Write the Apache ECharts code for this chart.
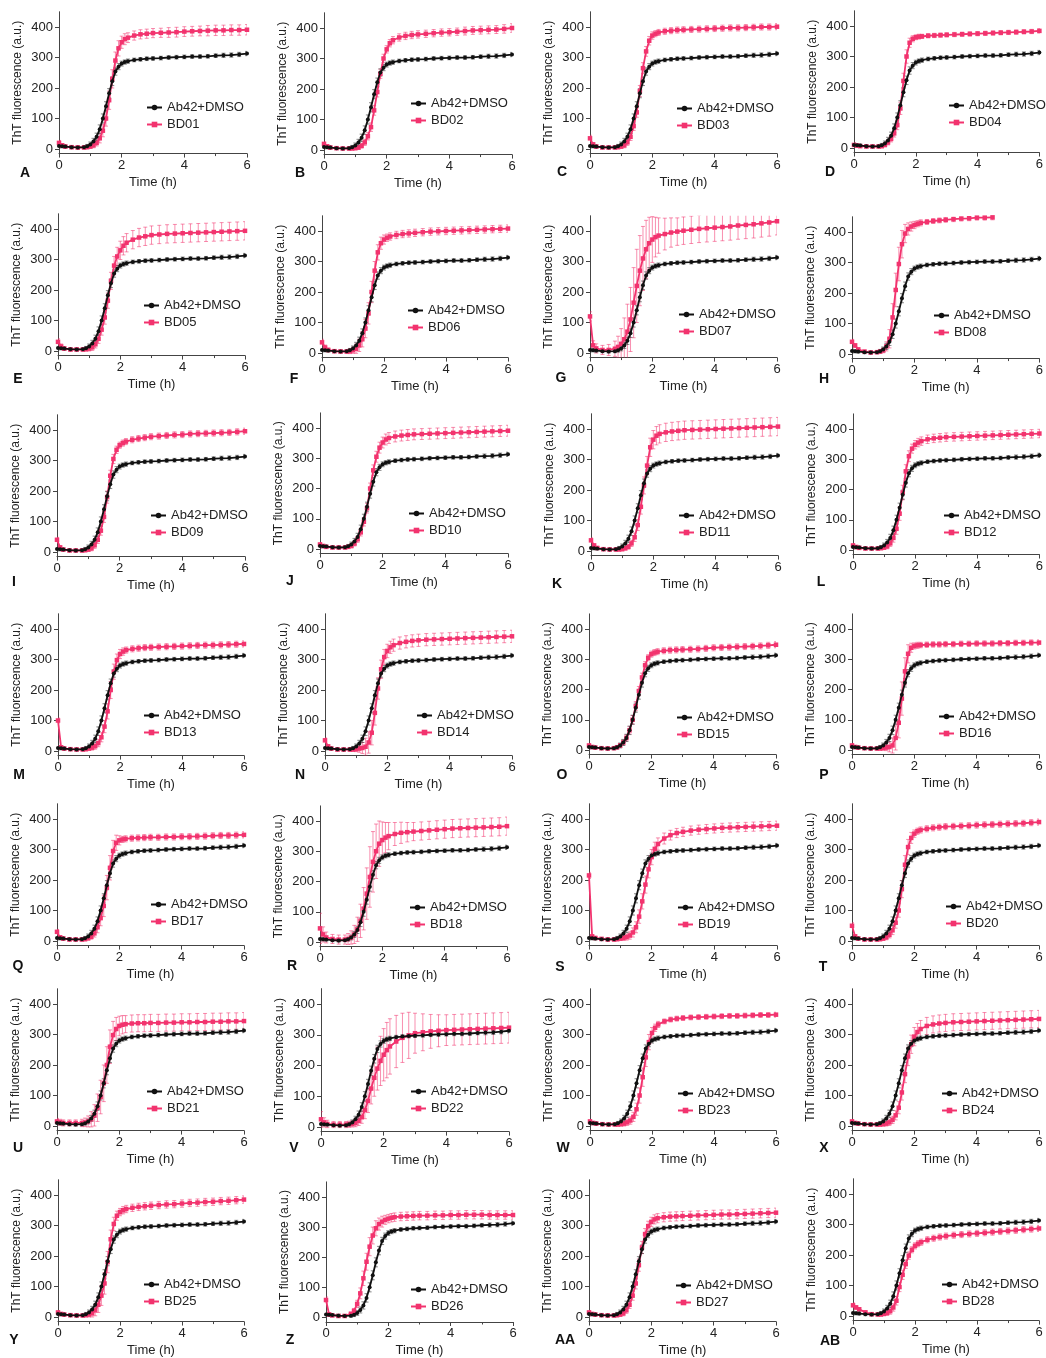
<!DOCTYPE html>
<html><head><meta charset="utf-8">
<script src="https://cdn.jsdelivr.net/npm/echarts@6/dist/echarts.min.js"></script>
<style>html,body{margin:0;padding:0;background:#fff}#c{width:1046px;height:1358px}</style>
</head><body><div id="c"></div>
<script>
// ---------------- DATA ----------------
const times = [0,0.1,0.2, 0.4,0.6,0.8,0.9, 1.0,1.1,1.2,1.3,1.4,1.5,1.6,1.7,1.8,1.9,2.0,2.1,2.2, 2.4,2.6,2.8,3.0, 3.25,3.5,3.75,4.0,4.25,4.5,4.75,5.0,5.25,5.5,5.75,6.0];
const xTicks = [0,2,4,6];
const yTicks = [0,100,200,300,400];
const ctrlName = 'Ab42+DMSO';
const ctrl    = [10,9,8, 6,5,6,9, 15,25,40,65,100,140,183,222,254,270,280,285,288, 292,294,296,297, 298,300,301,302,303,303,304,306,307,308,310,313];
const ctrlErr = [6,5,5, 5,5,5,6, 8,10,12,14,15,15,15,14,12,10,8,7,7, 6,6,6,6, 6,6,6,6,6,6,6,6,7,7,7,7];

const bd01 = [20,12,8, 6,5,5,6, 8,12,20,35,60,100,160,230,290,330,350,360,365, 372,376,378,380, 381,382,383,385,386,387,388,389,389,390,390,391];
const bd01Err = [8,6,5, 5,5,5,5, 6,8,10,15,20,25,30,30,28,25,20,18,16, 15,15,15,15, 15,16,16,16,16,16,17,17,17,17,17,17];
const bd02 = [20,12,8, 6,5,5,5, 6,8,14,25,45,75,130,190,250,300,330,350,360, 369,374,377,379, 381,383,385,386,388,390,392,393,394,395,397,400];
const bd02Err = [6,5,5, 4,4,4,4, 5,6,8,10,12,14,16,16,15,14,12,12,12, 12,12,12,12, 12,12,12,12,12,13,13,13,13,13,14,14];
const bd03 = [35,15,8, 5,5,5,6, 8,12,22,40,75,120,190,265,320,355,372,378,382, 386,388,390,391, 392,393,394,395,396,397,397,398,399,400,400,401];
const bd03Err = [10,6,5, 4,4,4,5, 6,8,10,12,14,16,18,18,16,14,12,10,10, 10,10,10,10, 10,10,10,10,10,10,10,10,10,10,10,10];
const bd04 = [10,8,6, 5,5,5,6, 10,18,30,48,75,130,220,300,345,358,363,365,366, 368,369,370,371, 372,373,374,375,376,377,378,379,380,381,382,384];
const bd04Err = [6,5,4, 4,4,4,5, 6,8,10,12,15,20,25,22,15,10,8,8,7, 7,7,7,7, 7,7,7,7,7,7,7,7,7,7,7,7];
const bd05 = [30,15,8, 5,5,5,6, 8,12,22,40,70,110,165,230,280,310,330,345,355, 365,372,376,380, 382,384,385,386,387,388,389,390,391,392,393,394];
const bd05Err = [10,8,6, 5,5,5,6, 8,10,12,15,18,22,25,28,30,30,30,30,30, 30,30,30,30, 30,30,30,30,30,30,30,30,30,30,30,30];
const bd06 = [35,18,10, 6,5,5,6, 9,14,25,45,80,130,200,270,330,360,372,378,382, 387,390,392,394, 396,398,399,400,401,402,403,404,405,406,407,408];
const bd06Err = [10,8,6, 5,5,6,8, 10,15,20,25,30,35,35,30,25,20,15,12,12, 12,12,12,12, 12,12,12,12,12,12,12,12,12,12,12,12];
const bd07 = [120,25,15, 10,10,14,20, 30,45,70,110,165,220,270,310,340,360,372,380,385, 390,395,398,401, 404,407,409,411,413,415,418,420,422,425,428,432];
const bd07Err = [15,15,15, 15,18,25,35, 50,70,90,105,115,120,115,105,95,85,75,65,58, 52,48,45,45, 45,45,45,45,45,45,45,45,45,45,45,45];
const bd08 = [40,28,15, 8,5,6,8, 12,25,50,120,210,295,360,395,410,418,423,427,430, 433,436,438,440, 442,444,445,447,447,448,null,null,null,null,null,null];
const bd08Err = [8,6,5, 4,4,4,5, 8,15,30,45,55,55,45,30,20,15,12,10,10, 8,8,8,8, 8,8,8,8,8,8,0,0,0,0,0,0];
const bd09 = [40,15,8, 5,5,5,6, 8,12,22,40,70,115,180,250,305,335,350,357,362, 368,372,375,378, 380,382,384,385,387,388,389,390,391,392,394,396];
const bd09Err = [8,6,5, 4,4,4,5, 6,8,10,12,15,18,20,18,15,12,10,10,10, 10,10,10,10, 10,10,10,10,10,10,10,10,10,10,10,10];
const bd10 = [15,10,7, 5,5,5,7, 10,18,32,55,90,135,200,260,305,335,352,362,367, 372,375,377,379, 380,381,382,383,384,385,386,387,388,389,390,391];
const bd10Err = [6,5,5, 4,4,4,5, 6,8,10,12,14,16,18,18,18,18,18,18,18, 18,18,18,18, 18,18,18,18,18,18,18,18,18,18,18,18];
const bd11 = [35,18,10, 6,5,5,5, 6,9,14,25,45,85,145,215,280,340,365,378,384, 389,392,394,396, 397,398,399,400,401,402,403,404,405,406,407,408];
const bd11Err = [8,6,5, 4,4,4,4, 5,6,8,10,14,18,24,28,30,30,30,30,30, 30,30,30,30, 30,30,30,30,30,30,30,30,30,30,30,30];
const bd12 = [15,10,7, 5,5,5,6, 8,12,22,40,70,120,190,260,310,335,348,355,360, 366,369,371,373, 374,375,376,377,378,379,380,381,382,383,384,385];
const bd12Err = [6,5,4, 4,4,4,5, 6,8,10,14,18,22,24,22,18,15,14,14,14, 14,14,14,14, 14,14,14,14,14,14,14,14,14,14,14,14];
const bd13 = [100,12,8, 6,5,5,6, 8,11,16,26,45,80,130,200,260,298,318,326,331, 335,337,339,340, 341,342,343,344,345,346,347,347,348,349,350,351];
const bd13Err = [8,6,5, 4,4,4,5, 6,8,10,12,15,20,25,28,25,20,15,12,10, 10,10,10,10, 10,10,10,10,10,10,10,10,10,10,10,10];
const bd14 = [35,15,8, 5,5,5,5, 6,8,10,14,28,60,125,205,268,308,328,340,347, 354,358,361,363, 365,366,367,368,369,370,371,372,373,374,375,376];
const bd14Err = [8,6,5, 5,5,5,6, 8,12,18,28,35,40,40,35,30,25,22,20,20, 20,20,20,20, 20,20,20,20,20,20,20,20,20,20,20,20];
const bd15 = [15,10,8, 6,5,6,9, 15,25,40,65,100,145,195,240,280,305,317,322,325, 328,330,331,332, 333,334,336,338,339,340,341,342,343,344,346,348];
const bd15Err = [6,5,4, 4,4,4,5, 6,8,10,12,14,15,15,14,12,10,10,10,10, 10,10,10,10, 10,10,10,10,10,10,10,10,10,10,10,10];
const bd16 = [15,10,8, 6,5,5,5, 6,8,10,15,40,90,170,260,318,338,344,346,347, 348,349,349,350, 350,351,351,352,352,352,353,353,354,354,355,355];
const bd16Err = [6,5,4, 4,4,4,5, 6,10,16,25,40,50,55,45,30,15,10,10,9, 9,9,9,9, 9,9,9,9,9,9,9,9,9,9,9,9];
const bd17 = [30,12,8, 5,5,5,6, 9,14,25,45,75,115,175,240,295,322,330,333,335, 337,338,339,340, 340,341,341,342,342,343,344,345,346,346,347,348];
const bd17Err = [8,6,5, 4,4,4,5, 6,8,12,18,25,35,40,40,35,25,15,10,10, 10,10,10,10, 10,10,10,10,10,10,10,10,10,10,10,10];
const bd18 = [45,25,15, 10,8,8,10, 15,25,42,70,110,160,215,265,300,325,337,345,350, 357,361,363,365, 367,369,371,373,375,376,377,378,379,380,381,383];
const bd18Err = [50,25,18, 15,15,15,18, 22,30,40,55,70,85,100,100,90,75,60,50,45, 38,35,32,30, 30,30,30,30,30,30,30,30,30,30,30,30];
const bd19 = [215,15,10, 7,5,5,6, 8,10,13,18,28,45,80,130,185,235,275,302,318, 336,347,354,358, 362,365,367,369,371,372,373,374,375,376,377,378];
const bd19Err = [10,6,5, 4,4,4,5, 6,8,10,12,15,18,22,25,28,28,25,22,20, 18,16,15,15, 15,15,15,15,15,15,15,15,15,15,15,15];
const bd20 = [50,15,8, 5,5,5,6, 8,12,20,35,60,100,170,250,308,338,352,360,364, 368,371,373,375, 376,377,378,380,381,382,383,384,385,386,388,390];
const bd20Err = [10,6,5, 4,4,4,5, 6,8,10,14,18,22,28,30,25,18,12,10,10, 10,10,10,10, 10,10,10,10,10,10,10,10,10,10,10,10];
const bd21 = [15,12,10, 10,10,10,12, 15,22,35,60,95,140,200,260,298,318,328,332,334, 336,337,337,338, 338,339,339,340,340,341,341,342,342,343,343,344];
const bd21Err = [10,10,10, 10,10,12,14, 18,25,35,45,55,60,60,55,45,38,32,30,28, 28,28,28,28, 28,28,28,28,28,28,28,28,28,28,28,28];
const bd22 = [25,15,10, 8,8,8,9, 10,13,20,32,55,85,125,160,190,215,235,250,262, 278,290,298,305, 308,311,313,315,316,317,318,319,320,321,322,323];
const bd22Err = [25,15,12, 10,10,10,10, 10,12,15,20,28,38,50,60,70,80,85,90,90, 85,80,75,65, 60,55,52,50,50,50,50,50,50,50,50,50];
const bd23 = [15,10,8, 6,5,5,5, 6,8,12,18,30,55,100,160,225,275,305,322,333, 343,349,352,354, 356,357,358,359,360,361,361,362,363,364,364,365];
const bd23Err = [6,5,4, 4,4,4,5, 6,8,10,12,15,20,25,30,30,25,18,12,10, 8,8,8,8, 8,8,8,8,8,8,8,8,8,8,8,8];
const bd24 = [15,10,8, 6,5,5,5, 6,8,12,20,35,60,110,170,228,268,293,308,318, 328,333,336,338, 340,341,342,343,344,345,346,347,348,349,350,351];
const bd24Err = [6,5,4, 4,4,4,5, 6,8,10,12,15,20,25,28,30,30,30,28,28, 28,28,28,28, 28,28,28,28,28,28,28,28,28,28,28,28];
const bd25 = [15,10,8, 6,5,5,6, 8,12,22,40,70,110,180,255,305,332,344,350,354, 358,361,363,365, 367,369,370,372,374,375,377,378,380,381,383,385];
const bd25Err = [6,5,4, 4,4,4,5, 8,12,18,25,32,35,35,30,22,15,12,12,12, 12,12,12,12, 12,12,12,12,12,12,12,12,12,12,12,12];
const bd26 = [58,10,7, 5,5,12,22, 45,80,130,185,235,272,296,310,318,324,328,331,333, 335,336,337,338, 338,339,339,340,340,341,341,341,340,340,340,340];
const bd26Err = [10,6,5, 4,4,6,8, 12,18,24,28,30,28,25,20,18,15,14,14,14, 14,14,14,14, 14,14,14,14,14,14,14,14,14,14,14,14];
const bd27 = [15,10,8, 6,5,5,6, 8,12,22,40,70,110,170,228,272,298,312,320,324, 327,329,330,331, 332,333,334,335,336,336,337,338,339,340,341,342];
const bd27Err = [6,5,4, 4,4,4,5, 6,8,10,12,15,18,20,20,18,16,15,15,15, 15,15,15,15, 15,15,15,15,15,15,15,15,15,15,15,15];
const bd28 = [35,28,22, 12,6,5,5, 7,10,16,28,50,95,135,170,198,217,230,237,242, 250,255,259,262, 265,267,269,271,273,275,277,279,281,283,285,287];
const bd28Err = [8,6,5, 4,4,4,5, 6,8,10,12,14,15,15,14,12,10,10,10,10, 10,10,10,10, 10,10,10,10,10,10,10,10,10,10,10,10];

const compoundNames = ['BD01','BD02','BD03','BD04','BD05','BD06','BD07','BD08','BD09','BD10','BD11','BD12','BD13','BD14','BD15','BD16','BD17','BD18','BD19','BD20','BD21','BD22','BD23','BD24','BD25','BD26','BD27','BD28'];
const compoundValues = [bd01,bd02,bd03,bd04,bd05,bd06,bd07,bd08,bd09,bd10,bd11,bd12,bd13,bd14,bd15,bd16,bd17,bd18,bd19,bd20,bd21,bd22,bd23,bd24,bd25,bd26,bd27,bd28];
const compoundErrors = [bd01Err,bd02Err,bd03Err,bd04Err,bd05Err,bd06Err,bd07Err,bd08Err,bd09Err,bd10Err,bd11Err,bd12Err,bd13Err,bd14Err,bd15Err,bd16Err,bd17Err,bd18Err,bd19Err,bd20Err,bd21Err,bd22Err,bd23Err,bd24Err,bd25Err,bd26Err,bd27Err,bd28Err];
const panelLetters = ['A','B','C','D','E','F','G','H','I','J','K','L','M','N','O','P','Q','R','S','T','U','V','W','X','Y','Z','AA','AB'];

// ---------------- LAYOUT ----------------
// [x at t=0, x at t=6, y at 400, y at 0]
const layout = [
 [59,247,27,149],[324,512,28,150],[590,777,27,149],[854,1041,26,148],
 [58,245,229,351],[322,508,231,353],[590,777,231,353],[852,1040,232,354],
 [57,245,430,552],[320,508,428,549],[591,778,429,551],[853,1040,429,550],
 [58,244,629,751],[325,512,629,751],[589,776,629,750],[852,1039,629,750],
 [57,244,819,941],[320,507,821,942],[589,777,819,941],[852,1039,819,941],
 [57,244,1004,1126],[321,509,1004,1127],[590,776,1004,1126],[852,1039,1004,1126],
 [58,244,1195,1317],[326,513,1197,1318],[589,776,1195,1317],[853,1039,1194,1316]
];
const legendOff = [
 [87,81],[86,76],[86,82],[94,80],[85,77],[85,80],[88,84],[81,84],
 [93,86],[88,86],[87,87],[90,87],[85,87],[91,87],[87,89],[86,88],
 [93,86],[89,87],[88,89],[93,88],[89,88],[89,88],[87,90],[89,90],
 [85,90],[84,93],[86,91],[88,91]
];
const letterPos = [
 [25,173],[300,173],[562,172],[830,172],[18,379],[294,379],[561,378],[824,379],
 [14,582],[290,581],[557,584],[821,582],[19,775],[300,775],[562,775],[824,775],
 [18,966],[292,966],[560,967],[823,967],[18,1148],[294,1148],[563,1148],[824,1148],
 [14,1340],[290,1340],[565,1340],[830,1341]
];

const FONT = 'Liberation Sans, Arial, sans-serif';
const PINK = '#F2336E';
const BLACK = '#111111';

function errRender(color){
  return function(params, api){
    const x = api.value(0), y = api.value(1), e = api.value(2);
    if (!e) return null;
    const p1 = api.coord([x, y + e]);
    const p2 = api.coord([x, y - e]);
    const c = 2;
    const st = {stroke: color, lineWidth: 1};
    return {type:'group', children:[
      {type:'line', shape:{x1:p1[0], y1:p1[1], x2:p2[0], y2:p2[1]}, style:st},
      {type:'line', shape:{x1:p1[0]-c, y1:p1[1], x2:p1[0]+c, y2:p1[1]}, style:st},
      {type:'line', shape:{x1:p2[0]-c, y1:p2[1], x2:p2[0]+c, y2:p2[1]}, style:st}
    ]};
  };
}
function pts(vals){ return times.map((t,k)=> vals[k]==null ? [t, null] : [t, vals[k]]); }
function errPts(vals, errs){
  const out = [];
  times.forEach((t,k)=>{ if (vals[k]!=null) out.push([t, vals[k], errs[k]]); });
  return out;
}

const grid = [], xAxis = [], yAxis = [], series = [], legend = [], graphic = [];
compoundNames.forEach((name, i) => {
  const [x0, x6, y400, y0] = layout[i];
  const s = (y0 - y400) / 400;
  grid.push({left: x0, top: y400 - 50*s, width: x6 - x0, height: 465*s, containLabel:false});
  xAxis.push({
    type:'value', gridIndex:i, min:0, max:6, interval:2,
    axisLine:{show:true, onZero:false, lineStyle:{color:'#444', width:1}},
    axisTick:{show:true, length:4, lineStyle:{color:'#444'}},
    minorTick:{show:true, splitNumber:2, length:2.5, lineStyle:{color:'#444'}},
    splitLine:{show:false}, minorSplitLine:{show:false},
    axisLabel:{fontSize:13, color:'#222', margin:5, fontFamily:FONT},
    name:'Time (h)', nameLocation:'middle', nameGap:22,
    nameTextStyle:{fontSize:13, color:'#222', fontFamily:FONT}
  });
  yAxis.push({
    type:'value', gridIndex:i, min:-15, max:450,
    axisLine:{show:true, lineStyle:{color:'#444', width:1}},
    axisTick:{show:true, length:4, customValues:yTicks, lineStyle:{color:'#444'}},
    axisLabel:{customValues:yTicks, fontSize:13, color:'#222', margin:6, fontFamily:FONT},
    splitLine:{show:false},
    name:'ThT fluorescence (a.u.)', nameLocation:'middle', nameGap:35,
    nameTextStyle:{fontSize:12, color:'#222', fontFamily:FONT}
  });
  series.push({
    type:'custom', name:name+' err', xAxisIndex:i, yAxisIndex:i, clip:true, silent:true, z:1,
    renderItem: errRender('rgba(242,51,110,0.55)'), encode:{x:0, y:1},
    data: errPts(compoundValues[i], compoundErrors[i])
  });
  series.push({
    type:'custom', name:'ctrl err', xAxisIndex:i, yAxisIndex:i, clip:true, silent:true, z:1,
    renderItem: errRender('rgba(60,60,60,0.6)'), encode:{x:0, y:1},
    data: errPts(ctrl, ctrlErr)
  });
  series.push({
    type:'line', name:name, xAxisIndex:i, yAxisIndex:i, z:2,
    data: pts(compoundValues[i]), symbol:'rect', symbolSize:4.5, showSymbol:true,
    color:PINK, lineStyle:{width:1.8, color:PINK}, itemStyle:{color:PINK},
    connectNulls:false, clip:true
  });
  series.push({
    type:'line', name:ctrlName, xAxisIndex:i, yAxisIndex:i, z:3,
    data: pts(ctrl), symbol:'circle', symbolSize:4, showSymbol:true,
    color:BLACK, lineStyle:{width:1.8, color:BLACK}, itemStyle:{color:BLACK}, clip:true
  });
  const [dx, dy] = legendOff[i];
  legend.push({
    left: x0 + dx, top: y400 + dy - 7, orient:'vertical', padding:0,
    itemWidth:15, itemHeight:7, itemGap:4, selectedMode:false,
    data:[ctrlName, name],
    textStyle:{fontSize:13, color:'#222', fontFamily:FONT}
  });
  const [lx, ly] = letterPos[i];
  graphic.push({type:'text', x:lx, y:ly, silent:true,
    style:{text:panelLetters[i], fill:'#111', font:'bold 14px '+FONT, textAlign:'center', textVerticalAlign:'middle'}});
});

const chart = echarts.init(document.getElementById('c'), null, {renderer:'canvas'});
chart.setOption({
  backgroundColor:'#fff', animation:false,
  textStyle:{fontFamily:FONT},
  grid, xAxis, yAxis, series, legend, graphic
});
</script>
</body></html>
